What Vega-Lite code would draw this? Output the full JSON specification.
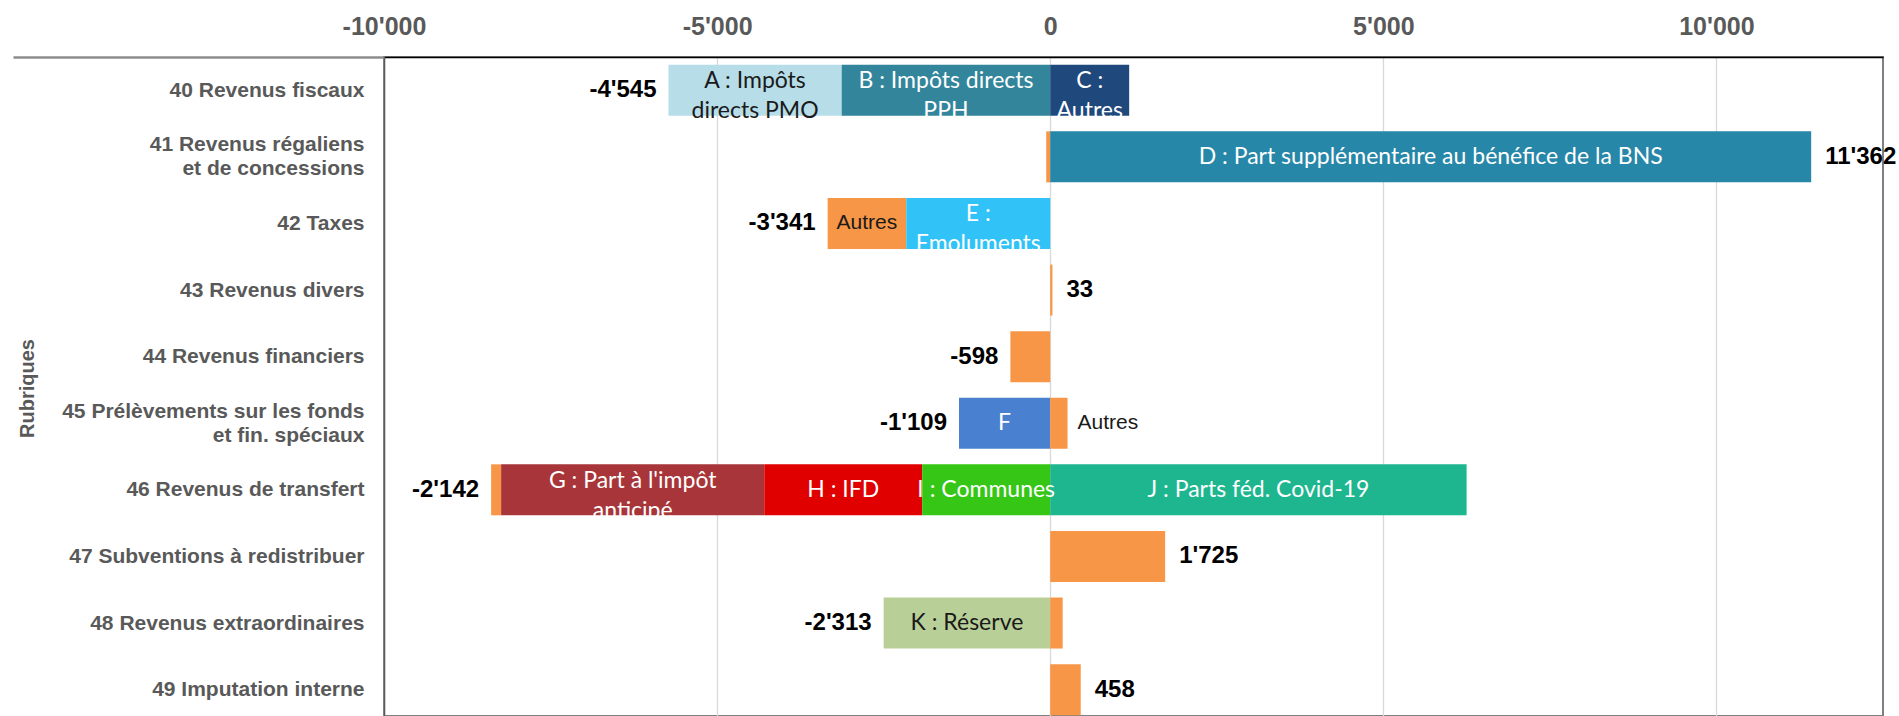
{
  "$schema": "https://vega.github.io/schema/vega-lite/v6.json",
  "width": 1499,
  "height": 659,
  "autosize": {"type": "none"},
  "padding": {"left": 384, "top": 57, "right": 16, "bottom": 0},
  "background": "white",
  "config": {
    "locale": {"number": {"decimal": ".", "thousands": "'", "grouping": [3], "currency": ["", ""], "minus": "-"}},
    "view": {"stroke": "#7F7F7F", "strokeWidth": 2},
    "text": {"lineBreak": "\n"}
  },
  "data": {"values": [
    {"row": "40 Revenus fiscaux", "seg": "A", "value": -2600, "ord": 2, "inner": "A : Impôts\ndirects PMO", "outer": ""},
    {"row": "40 Revenus fiscaux", "seg": "B", "value": -3130, "ord": 1, "inner": "B : Impôts directs\nPPH", "outer": ""},
    {"row": "40 Revenus fiscaux", "seg": "C", "value": 1185, "ord": 1, "inner": "C :\nAutres", "outer": ""},
    {"row": "41 Revenus régaliens\net de concessions", "seg": "Autres", "value": -60, "ord": 1, "inner": "", "outer": ""},
    {"row": "41 Revenus régaliens\net de concessions", "seg": "D", "value": 11422, "ord": 1, "inner": "D : Part supplémentaire au bénéfice de la BNS", "outer": ""},
    {"row": "42 Taxes", "seg": "Autres", "value": -1180, "ord": 2, "inner": "Autres", "outer": ""},
    {"row": "42 Taxes", "seg": "E", "value": -2161, "ord": 1, "inner": "E :\nEmoluments", "outer": ""},
    {"row": "43 Revenus divers", "seg": "Autres", "value": 33, "ord": 1, "inner": "", "outer": ""},
    {"row": "44 Revenus financiers", "seg": "Autres", "value": -598, "ord": 1, "inner": "", "outer": ""},
    {"row": "45 Prélèvements sur les fonds\net fin. spéciaux", "seg": "F", "value": -1369, "ord": 1, "inner": "F", "outer": ""},
    {"row": "45 Prélèvements sur les fonds\net fin. spéciaux", "seg": "Autres", "value": 260, "ord": 1, "inner": "", "outer": "Autres"},
    {"row": "46 Revenus de transfert", "seg": "Autres", "value": -150, "ord": 4, "inner": "", "outer": ""},
    {"row": "46 Revenus de transfert", "seg": "G", "value": -3950, "ord": 3, "inner": "G : Part à l'impôt\nanticipé", "outer": ""},
    {"row": "46 Revenus de transfert", "seg": "H", "value": -2370, "ord": 2, "inner": "H : IFD", "outer": ""},
    {"row": "46 Revenus de transfert", "seg": "I", "value": -1922, "ord": 1, "inner": "I : Communes", "outer": ""},
    {"row": "46 Revenus de transfert", "seg": "J", "value": 6250, "ord": 1, "inner": "J :  Parts féd. Covid-19", "outer": ""},
    {"row": "47 Subventions à redistribuer", "seg": "Autres", "value": 1725, "ord": 1, "inner": "", "outer": ""},
    {"row": "48 Revenus extraordinaires", "seg": "K", "value": -2500, "ord": 1, "inner": "K : Réserve", "outer": ""},
    {"row": "48 Revenus extraordinaires", "seg": "Autres", "value": 187, "ord": 1, "inner": "", "outer": ""},
    {"row": "49 Imputation interne", "seg": "Autres", "value": 458, "ord": 1, "inner": "", "outer": ""}
  ]},
  "encoding": {
    "y": {
      "field": "row", "type": "nominal", "sort": null,
      "scale": {
        "domain": ["40 Revenus fiscaux", "41 Revenus régaliens\net de concessions", "42 Taxes", "43 Revenus divers", "44 Revenus financiers", "45 Prélèvements sur les fonds\net fin. spéciaux", "46 Revenus de transfert", "47 Subventions à redistribuer", "48 Revenus extraordinaires", "49 Imputation interne"],
        "paddingInner": 0.234, "paddingOuter": 0.0646, "align": 0.9
      },
      "axis": {
        "title": "Rubriques",
        "titleFont": "Liberation Sans", "titleFontWeight": "bold", "titleFontSize": 20, "titleColor": "#595959",
        "titleX": -357, "titleY": 331, "titleAngle": -90, "titleAlign": "center", "titleBaseline": "middle",
        "labelExpr": "split(datum.value, '\\n')",
        "labelFont": "Liberation Sans", "labelFontWeight": "bold", "labelFontSize": 21, "labelColor": "#595959",
        "labelLineHeight": 24, "labelLimit": 400, "labelAlign": "right", "labelBaseline": "middle",
        "ticks": true, "tickSize": 371, "tickWidth": 2.5,
        "tickColor": {"condition": {"test": "datum.value === '40 Revenus fiscaux'", "value": "#8C8C8C"}, "value": "transparent"},
        "tickOffset": -33.3,
        "labelOffset": {"condition": {"test": "indexof(datum.value, '\\n') >= 0", "value": 21.3}, "value": 33.3},
        "labelPadding": -351,
        "domain": true, "domainColor": "#595959", "domainWidth": 1.5,
        "grid": false
      }
    }
  },
  "layer": [
    {
      "mark": {"type": "bar"},
      "encoding": {
        "x": {
          "field": "value", "type": "quantitative", "stack": "zero",
          "scale": {"domain": [-10000, 12500], "nice": false, "zero": false},
          "axis": {
            "orient": "top", "title": null, "values": [-10000, -5000, 0, 5000, 10000], "format": ",.0f",
            "labelFont": "Liberation Sans", "labelFontWeight": "bold", "labelFontSize": 25, "labelColor": "#595959",
            "labelFlush": false,
            "ticks": false, "tickSize": 0, "labelPadding": 18,
            "domain": true, "domainColor": "#000000", "domainWidth": 1.5,
            "grid": true, "gridColor": "#D9D9D9", "gridWidth": 1.3
          }
        },
        "color": {
          "field": "seg", "type": "nominal", "legend": null,
          "scale": {
            "domain": ["A", "B", "C", "D", "E", "F", "G", "H", "I", "J", "K", "Autres"],
            "range": ["#B7DDE8", "#33859B", "#1F497D", "#2787A8", "#31C3F7", "#4A80D0", "#A83539", "#E00000", "#35C616", "#1DB68F", "#B9CF98", "#F79646"]
          }
        },
        "order": {"field": "ord", "type": "quantitative"}
      }
    },
    {
      "mark": {"type": "rule", "color": "#8C8C8C", "strokeWidth": 2.5},
      "encoding": {"x": {"datum": 0}}
    },
    {
      "transform": [
        {"stack": "value", "groupby": ["row"], "sort": [{"field": "ord"}], "as": ["v0", "v1"]},
        {"filter": "datum.inner !== '' && datum.seg !== 'Autres' && indexof(datum.inner, '\\n') < 0"},
        {"fold": ["v0", "v1"], "as": ["edge", "pos"]},
        {"aggregate": [{"op": "mean", "field": "pos", "as": "mid"}], "groupby": ["row", "seg", "inner"]}
      ],
      "mark": {"type": "text", "font": "Lato", "fontSize": 23, "lineHeight": 30, "align": "center", "baseline": "middle"},
      "encoding": {
        "x": {"field": "mid", "type": "quantitative"},
        "text": {"field": "inner"},
        "color": {"condition": {"test": "datum.seg === 'A' || datum.seg === 'K'", "value": "#1A1A1A"}, "value": "#FFFFFF"}
      }
    },
    {
      "transform": [
        {"stack": "value", "groupby": ["row"], "sort": [{"field": "ord"}], "as": ["v0", "v1"]},
        {"filter": "datum.inner !== '' && datum.seg !== 'Autres' && indexof(datum.inner, '\\n') >= 0"},
        {"fold": ["v0", "v1"], "as": ["edge", "pos"]},
        {"aggregate": [{"op": "mean", "field": "pos", "as": "mid"}], "groupby": ["row", "seg", "inner"]}
      ],
      "mark": {"type": "text", "font": "Lato", "fontSize": 23, "lineHeight": 30, "align": "center", "baseline": "middle", "dy": -9},
      "encoding": {
        "x": {"field": "mid", "type": "quantitative"},
        "text": {"field": "inner"},
        "color": {"condition": {"test": "datum.seg === 'A' || datum.seg === 'K'", "value": "#1A1A1A"}, "value": "#FFFFFF"}
      }
    },
    {
      "transform": [
        {"stack": "value", "groupby": ["row"], "sort": [{"field": "ord"}], "as": ["v0", "v1"]},
        {"filter": "datum.inner !== '' && datum.seg === 'Autres'"},
        {"fold": ["v0", "v1"], "as": ["edge", "pos"]},
        {"aggregate": [{"op": "mean", "field": "pos", "as": "mid"}], "groupby": ["row", "seg", "inner"]}
      ],
      "mark": {"type": "text", "font": "Liberation Sans", "fontSize": 21, "align": "center", "baseline": "middle", "color": "#1A1A1A"},
      "encoding": {
        "x": {"field": "mid", "type": "quantitative"},
        "text": {"field": "inner"}
      }
    },
    {
      "transform": [
        {"stack": "value", "groupby": ["row"], "sort": [{"field": "ord"}], "as": ["v0", "v1"]},
        {"filter": "datum.outer !== ''"}
      ],
      "mark": {"type": "text", "font": "Liberation Sans", "fontSize": 21, "align": "left", "baseline": "middle", "dx": 10, "color": "#1A1A1A"},
      "encoding": {
        "x": {"field": "v1", "type": "quantitative"},
        "text": {"field": "outer"}
      }
    },
    {
      "transform": [
        {"stack": "value", "groupby": ["row"], "sort": [{"field": "ord"}], "as": ["v0", "v1"]},
        {"aggregate": [{"op": "sum", "field": "value", "as": "total"}, {"op": "min", "field": "v1", "as": "lo"}, {"op": "max", "field": "v1", "as": "hi"}], "groupby": ["row"]},
        {"filter": "datum.total < 0"}
      ],
      "mark": {"type": "text", "font": "Liberation Sans", "fontWeight": "bold", "fontSize": 24, "align": "right", "baseline": "middle", "dx": -12, "color": "#000000"},
      "encoding": {
        "x": {"field": "lo", "type": "quantitative"},
        "text": {"field": "total", "type": "quantitative", "format": ",.0f"}
      }
    },
    {
      "transform": [
        {"stack": "value", "groupby": ["row"], "sort": [{"field": "ord"}], "as": ["v0", "v1"]},
        {"aggregate": [{"op": "sum", "field": "value", "as": "total"}, {"op": "min", "field": "v1", "as": "lo"}, {"op": "max", "field": "v1", "as": "hi"}], "groupby": ["row"]},
        {"filter": "datum.total > 0"}
      ],
      "mark": {"type": "text", "font": "Liberation Sans", "fontWeight": "bold", "fontSize": 24, "align": "left", "baseline": "middle", "dx": 14, "color": "#000000"},
      "encoding": {
        "x": {"field": "hi", "type": "quantitative"},
        "text": {"field": "total", "type": "quantitative", "format": ",.0f"}
      }
    }
  ]
}
